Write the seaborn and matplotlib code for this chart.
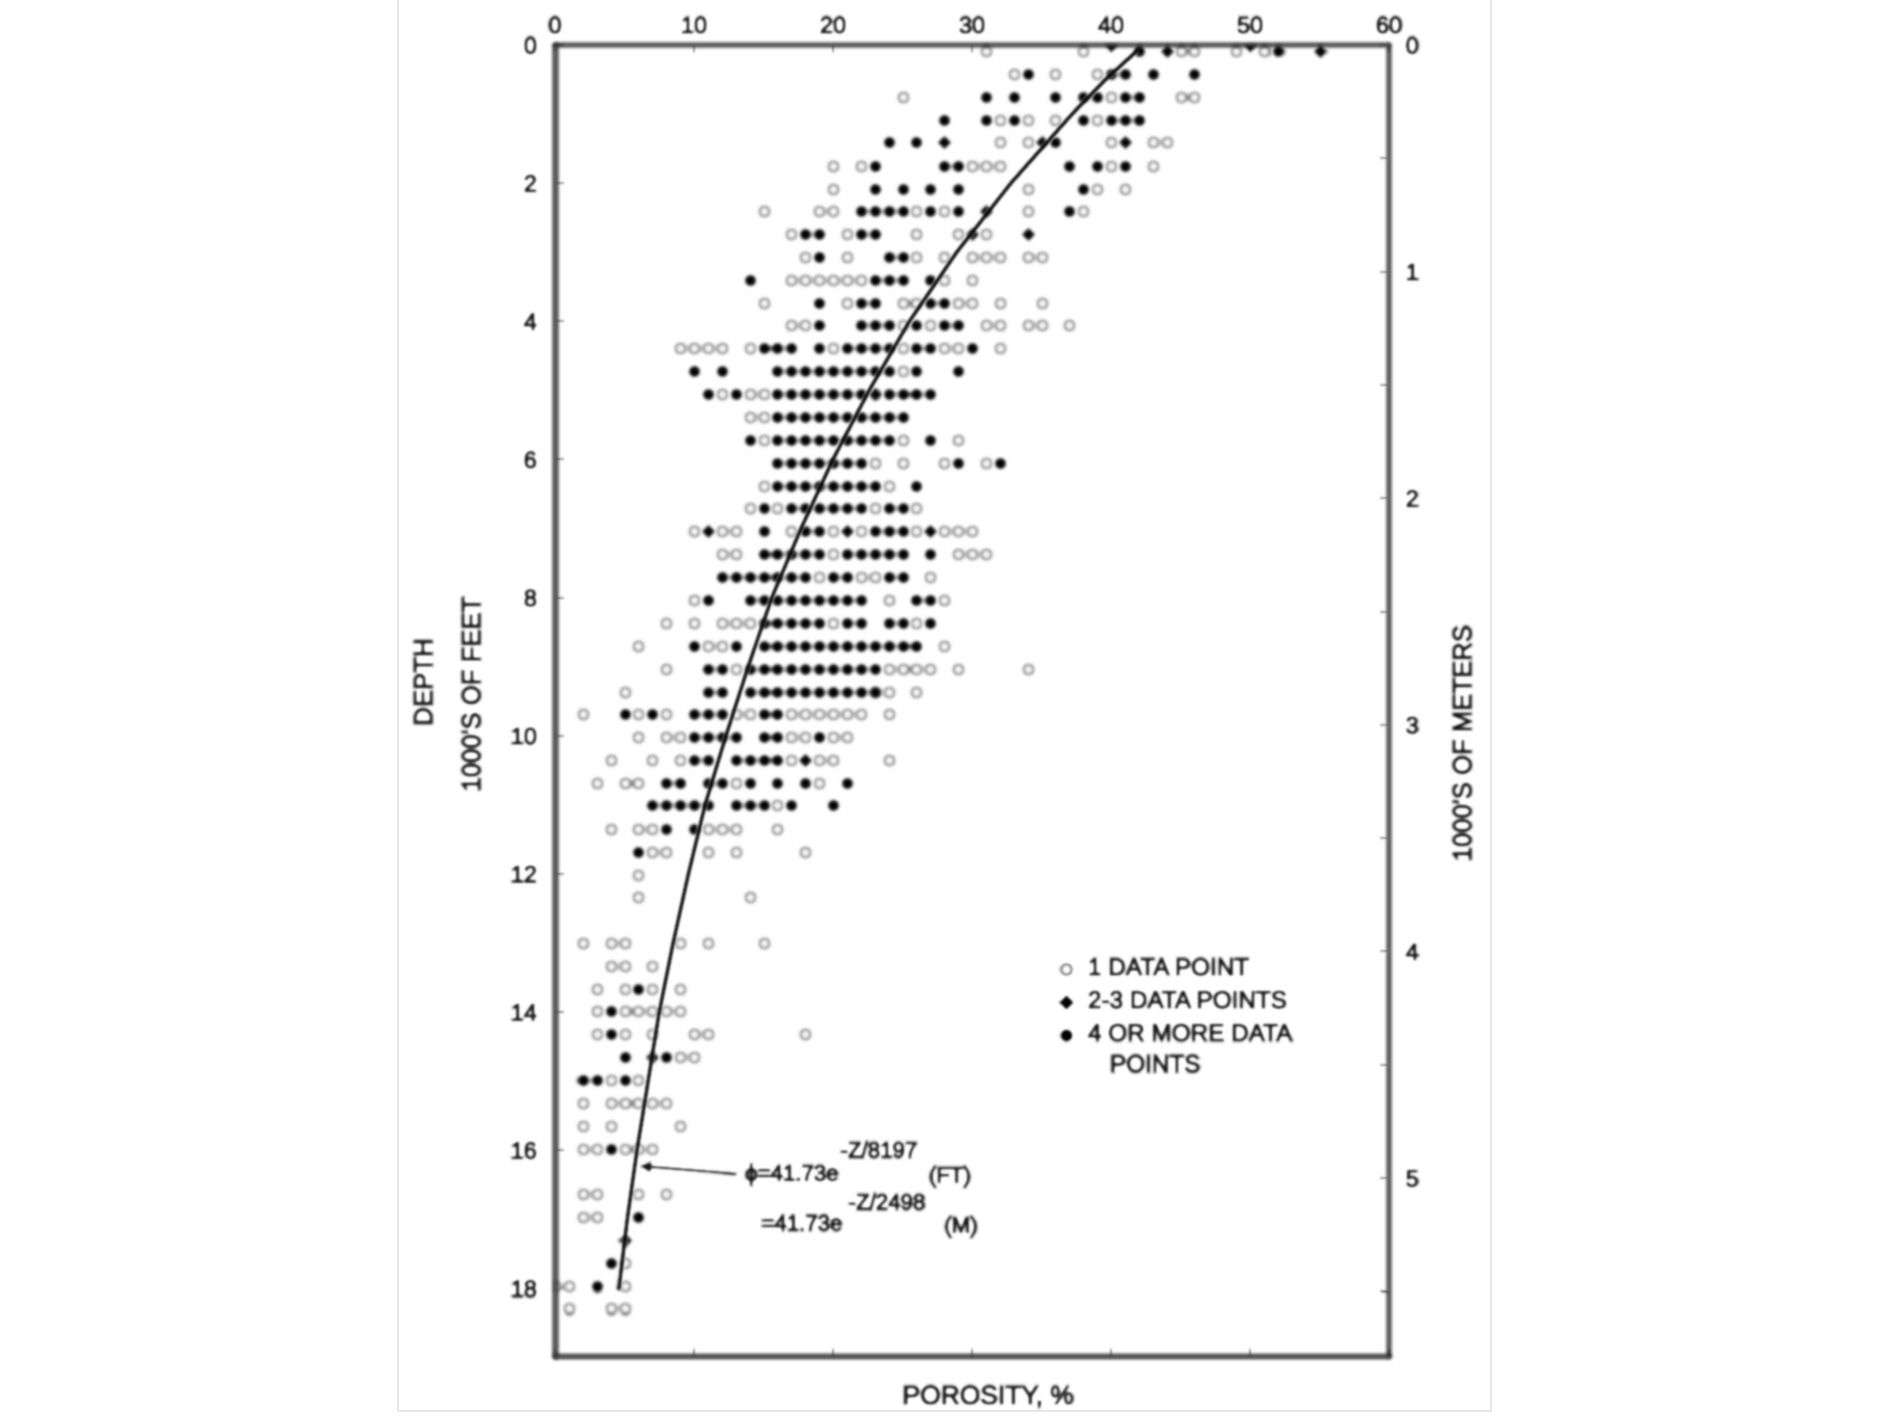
import numpy as np
import pandas as pd
import matplotlib
matplotlib.use("Agg")
import matplotlib.pyplot as plt
import matplotlib.patheffects as pe
from matplotlib.patches import Rectangle
import seaborn as sns

row_depth = [0.0, 0.09, 0.42, 0.75, 1.08, 1.41, 1.75, 2.08, 2.41, 2.74, 3.07, 3.40, 3.73, 4.06, 4.39,
             4.72, 5.05, 5.39, 5.72, 6.05, 6.38, 6.71, 7.04, 7.37, 7.70, 8.03, 8.37, 8.70, 9.03,
             9.36, 9.69, 10.02, 10.35, 10.68, 11.01, 11.35, 11.68, 12.01, 12.34, 13.00, 13.33,
             13.66, 13.99, 14.32, 14.65, 14.98, 15.31, 15.65, 15.98, 16.64, 16.97, 17.30, 17.63,
             17.96, 18.29]

# porosity of the marks on each depth row: 1 point / 2-3 points / 4 or more
open_x = [
    [], [31, 38, 45, 46, 49, 51], [33, 36, 39], [25, 40, 45, 46], [32, 34, 36, 39],
    [32, 34, 40, 43, 44], [20, 22, 30, 31, 32, 40, 43], [20, 34, 39, 41],
    [15, 19, 20, 26, 28, 34, 38], [17, 21, 26, 29, 31], [18, 21, 26, 28, 30, 31, 32, 34, 35],
    [17, 18, 19, 20, 21, 22, 28, 30], [15, 21, 25, 26, 29, 30, 32, 35],
    [17, 18, 25, 27, 31, 32, 34, 35, 37], [9, 10, 11, 12, 14, 20, 25, 28, 29, 32],
    [25], [12, 14, 15, 23], [14, 15], [15, 25, 29], [23, 25, 28, 31], [15, 24], [14, 16, 23, 26],
    [10, 12, 13, 17, 20, 22, 26, 28, 29, 30], [12, 13, 20, 29, 30, 31], [19, 22, 23, 27],
    [10, 24, 28], [8, 10, 12, 13, 14, 20, 26], [6, 11, 12, 28], [8, 13, 24, 25, 26, 27, 29, 34],
    [5, 23, 24, 26], [2, 6, 8, 13, 14, 17, 18, 19, 20, 21, 22, 24], [6, 8, 9, 17, 18, 20, 21],
    [4, 7, 9, 17, 19, 20, 24], [3, 5, 6, 13, 19], [16], [4, 6, 7, 11, 12, 13, 16],
    [7, 8, 11, 13, 18], [6], [6, 14], [2, 4, 5, 9, 11, 15], [4, 5, 7], [3, 5, 7, 9],
    [3, 5, 6, 7, 8, 9], [3, 5, 7, 10, 11, 18], [9, 10], [4, 6], [2, 4, 5, 6, 7, 8], [2, 4, 9],
    [2, 3, 5, 6, 7], [2, 3, 6, 8], [2, 3], [], [5], [0, 1, 5], [1, 4, 5],
]
mid_x = [
    [40, 50], [44, 55], [], [], [], [28, 35, 41], [], [], [31], [30, 34], [], [], [], [], [], [], [23], [],
    [], [], [], [], [11, 21, 27], [], [], [], [], [], [], [], [], [], [18], [], [], [], [], [], [],
    [], [], [], [], [], [7], [], [], [], [], [], [], [5], [], [], [],
]
full_x = [
    [], [42, 52], [34, 40, 41, 43, 46], [31, 33, 36, 38, 39, 41, 42], [28, 31, 33, 38, 40, 41, 42],
    [24, 26, 36], [23, 28, 29, 37, 39, 41], [23, 25, 27, 29, 38], [22, 23, 24, 25, 27, 29, 37],
    [18, 19, 22, 23], [19, 24, 25], [14, 23, 24, 25, 27], [19, 22, 23, 27, 28],
    [19, 22, 23, 24, 26, 28, 29], [15, 16, 17, 19, 21, 22, 23, 24, 26, 27, 30],
    [10, 12, 16, 17, 18, 19, 20, 21, 22, 23, 24, 26, 29],
    [11, 13, 16, 17, 18, 19, 20, 21, 22, 24, 25, 26, 27],
    [16, 17, 18, 19, 20, 21, 22, 23, 24, 25], [14, 16, 17, 18, 19, 20, 21, 22, 23, 24, 27],
    [16, 17, 18, 19, 20, 21, 22, 29, 32], [16, 17, 18, 19, 20, 21, 22, 23, 26],
    [15, 17, 18, 19, 20, 21, 22, 24, 25], [15, 18, 19, 23, 24, 25],
    [15, 16, 17, 18, 19, 21, 22, 23, 24, 25, 27],
    [12, 13, 14, 15, 16, 17, 18, 20, 21, 24, 25], [11, 14, 15, 16, 17, 18, 19, 20, 21, 22, 26, 27],
    [15, 16, 17, 18, 19, 21, 22, 24, 25, 27],
    [10, 13, 15, 16, 17, 18, 19, 20, 21, 22, 23, 24, 25, 26],
    [11, 12, 14, 15, 16, 17, 18, 19, 20, 21, 22, 23], [11, 12, 14, 15, 16, 17, 18, 19, 20, 21, 22, 23],
    [5, 7, 10, 11, 12, 15, 16], [10, 11, 12, 13, 15, 16, 19], [10, 11, 13, 14, 15, 16],
    [8, 9, 11, 12, 14, 16, 18, 21], [7, 8, 9, 10, 11, 13, 14, 15, 17, 20], [8, 10], [6], [], [],
    [], [], [6], [4], [4], [5, 8], [2, 3, 5], [], [], [4], [], [6], [], [4], [3], [],
]

# fitted trend
curve_depth = [0.08, 0.5, 1, 1.5, 2, 3, 4, 5, 6, 7, 8, 9, 10, 11, 12, 13, 14, 15, 16, 17, 18]
curve_phi = [41.9, 39.6, 37.2, 35.0, 32.8, 28.9, 25.5, 22.6, 20.0, 17.7, 15.6, 13.9, 12.3, 10.8, 9.6,
             8.5, 7.5, 6.7, 5.9, 5.2, 4.6]

porosity_ticks = [0, 10, 20, 30, 40, 50, 60]
feet_ticks = [0, 2, 4, 6, 8, 10, 12, 14, 16, 18]
meter_ticks = [0, 1, 2, 3, 4, 5]
meter_minor = [0.5, 1.5, 2.5, 3.5, 4.5, 5.5]

W, H = 1890, 1417
INK = "#141414"
HEAVY = [pe.withStroke(linewidth=1.0, foreground=INK)]


def soften(img, dpi):
    # the source is a blurry scan, so smear whatever gets drawn
    pad = 6
    g = np.array([0.03, 0.1, 0.22, 0.3, 0.22, 0.1, 0.03])
    out = np.pad(img, ((pad, pad), (pad, pad), (0, 0)))
    out = np.apply_along_axis(np.convolve, 0, out, g, mode="same")
    out = np.apply_along_axis(np.convolve, 1, out, g, mode="same")
    return np.clip(out, 0, 1), -pad, -pad


def long_table(rows):
    return pd.DataFrame(
        [(x, d) for d, xs in zip(row_depth, rows) for x in xs], columns=["porosity", "depth"]
    )


sns.set_theme(style="ticks")
plt.rcParams["font.family"] = ["Liberation Sans", "DejaVu Sans"]

fig = plt.figure(figsize=(W / 100, H / 100), dpi=100, facecolor="white")
ax = fig.add_axes([555 / W, 1 - 1356 / H, 834 / W, 1311 / H])

sns.scatterplot(data=long_table(open_x), x="porosity", y="depth", ax=ax, s=62, marker="o",
                facecolor="white", edgecolor="#4a4a4a", linewidth=1.3, label="1 DATA POINT", zorder=2)
sns.scatterplot(data=long_table(mid_x), x="porosity", y="depth", ax=ax, s=48, marker="D",
                color="black", edgecolor="black", linewidth=0.5, label="2-3 DATA POINTS", zorder=3)
sns.scatterplot(data=long_table(full_x), x="porosity", y="depth", ax=ax, s=68, marker="o",
                color="black", edgecolor="black", linewidth=0.5, label="4 OR MORE DATA", zorder=3)
sns.lineplot(x=curve_phi, y=curve_depth, ax=ax, color="#0a0a0a", linewidth=3.1, sort=False,
             estimator=None, zorder=4)

ax.set_xlim(0, 60)
ax.set_ylim(18.98, 0)
ax.set_xticks(porosity_ticks)
ax.set_yticks(feet_ticks)
ax.tick_params(axis="x", top=True, bottom=True, labeltop=True, labelbottom=False, direction="in",
               length=6, width=1.4, color=INK, labelsize=17, labelcolor=INK, pad=5)
ax.tick_params(axis="y", left=True, right=False, direction="in", length=6, width=1.4, color=INK,
               labelsize=17, labelcolor=INK, pad=13)
ax.set_xlabel("")
ax.set_ylabel("")

ax2 = ax.twinx()
ax2.set_ylim(18.98 * 0.3048, 0)
ax2.set_yticks(meter_ticks)
ax2.set_yticks(meter_minor, minor=True)
ax2.tick_params(axis="y", which="both", direction="in", length=6, width=1.4, color=INK,
                labelsize=17, labelcolor=INK, pad=12)

for a in (ax, ax2):
    for label in a.get_xticklabels() + a.get_yticklabels():
        label.set_path_effects(HEAVY)
    for spine in a.spines.values():
        spine.set_color("#333333")
        spine.set_linewidth(1.7)
    a.spines["left"].set_color("#555555")
    a.spines["left"].set_linewidth(2.5)
    a.spines["bottom"].set_color("#444444")
    a.spines["bottom"].set_linewidth(2.2)

leg = ax.legend(loc="upper left", bbox_to_anchor=(1043 / W, 1 - 946 / H), bbox_transform=fig.transFigure,
                frameon=False, labelspacing=0.45, handletextpad=0.45, handlelength=0.9, borderpad=0,
                labelcolor=INK, prop={"size": 17.5})
for t in leg.get_texts():
    t.set_path_effects(HEAVY)

ax.annotate("", xy=(6.1, 16.23), xytext=(12.95, 16.34),
            arrowprops=dict(arrowstyle="-|>", color=INK, lw=1.9, shrinkA=0, shrinkB=0, mutation_scale=13))


def page_text(x, y, s, **kw):
    kw.setdefault("fontsize", 18.5)
    kw.setdefault("ha", "center")
    return fig.text(x / W, 1 - y / H, s, va="center", color=INK, path_effects=HEAVY, **kw)


page_text(425, 682, "DEPTH", rotation=90)
page_text(473, 694, "1000'S OF FEET", rotation=90)
page_text(1464, 743, "1000'S OF METERS", rotation=90)
page_text(988, 1397, "POROSITY, %", fontsize=19)
page_text(1110, 1066, "POINTS", fontsize=17.5, ha="left")
page_text(792, 1175, "\u03d5=41.73e", fontsize=16)
page_text(879, 1152, "-Z/8197", fontsize=16)
page_text(950, 1177, "(FT)", fontsize=16)
page_text(802, 1225, "=41.73e", fontsize=16)
page_text(887, 1204, "-Z/2498", fontsize=16)
page_text(961, 1227, "(M)", fontsize=16)

# pale edge of the scanned page
fig.add_artist(Rectangle((398 / W, 1 - 1411 / H), 1093 / W, 1.2, transform=fig.transFigure,
                         fill=False, edgecolor="#e3e3e3", linewidth=1.2, zorder=-1))

for a in (ax, ax2):
    for child in a.get_children():
        if child is not a.patch:
            child.set_agg_filter(soften)
for t in fig.texts:
    t.set_agg_filter(soften)

fig.savefig("out.png", dpi=100)
